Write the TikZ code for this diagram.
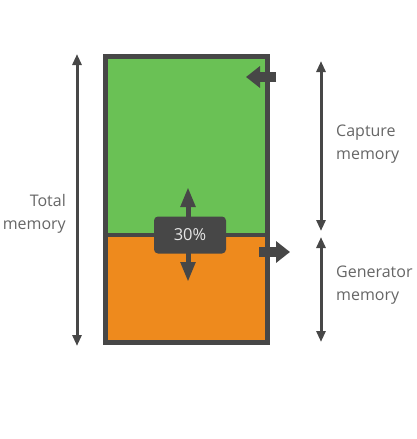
\documentclass[tikz,border=0pt]{standalone}
\usepackage{fontspec}
\setmainfont{Open Sans}
\usetikzlibrary{arrows.meta}
\definecolor{dgray}{HTML}{474747}
\definecolor{lgreen}{HTML}{6AC155}
\definecolor{orng}{HTML}{EE8A1D}
\definecolor{tgray}{HTML}{666666}
\definecolor{ltext}{HTML}{E6E6E6}
\tikzset{
  dim/.style={draw=dgray, line width=3pt, {Triangle[width=9pt,length=11pt]}-{Triangle[width=9pt,length=11pt]}},
  lbl/.style={text=tgray, font=\fontsize{16}{22.5}\selectfont, inner sep=0pt, align=left},
  fat/.style={draw=dgray, line width=10pt, -{Triangle[width=21pt,length=14pt]}},
  mid/.style={draw=dgray, line width=5pt, {Triangle[width=14pt,length=20pt]}-{Triangle[width=14pt,length=20pt]}}
}
\begin{document}
\begin{tikzpicture}[x=1pt,y=-1pt]
\useasboundingbox (0,0) rectangle (416,439);
% memory box
\fill[lgreen] (105.5,56.5) rectangle (267.5,235);
\fill[orng] (105.5,235) rectangle (267.5,342.5);
\draw[dgray, line width=4pt] (105.5,235) -- (267.5,235);
\node[draw=dgray, line width=5pt, minimum width=162pt, minimum height=286pt, inner sep=0pt] (box) at (186.5,199.5) {};
% total memory
\coordinate (tt) at (77,54);
\coordinate (tb) at (77,346);
\draw[dim] (tt) -- (tb);
\node[lbl, align=right, anchor=east] (total) at (66,214) {Total\\memory};
% capture memory
\coordinate (ct) at (321,61);
\coordinate (cb) at (321,231);
\draw[dim] (ct) -- (cb);
\node[lbl, anchor=west] (cap) at (336,144) {Capture\\memory};
% generator memory
\coordinate (gt) at (321,237);
\coordinate (gb) at (321,342);
\draw[dim] (gt) -- (gb);
\node[lbl, anchor=west] (gen) at (336,285) {Generator\\memory};
% in/out arrows
\coordinate (ina) at (276,77);
\coordinate (inb) at (246,77);
\draw[fat] (ina) -- (inb);
\coordinate (outa) at (259,252);
\coordinate (outb) at (290,252);
\draw[fat] (outa) -- (outb);
% 30% slider
\coordinate (st) at (188,187);
\coordinate (sb) at (188,282);
\draw[mid] (st) -- (sb);
\node[fill=dgray, rounded corners=4pt, minimum width=72pt, minimum height=37pt, inner sep=0pt, text=ltext, font=\fontsize{16.5}{18}\selectfont] (pct) at (190,235) {30\%};
\end{tikzpicture}
\end{document}
